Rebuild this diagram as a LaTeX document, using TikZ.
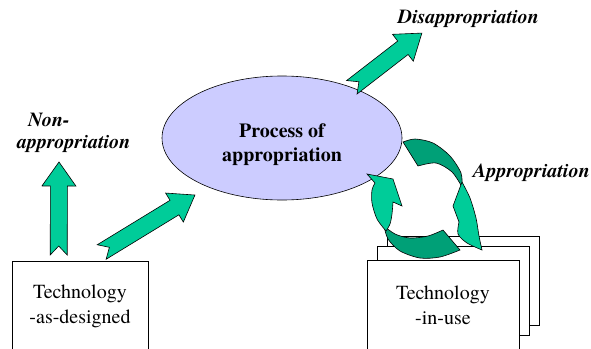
\documentclass[tikz,border=0pt]{standalone}
\usepackage{fontspec}
\setmainfont{texgyretermes}[Extension=.otf, UprightFont=*-regular, BoldFont=*-bold,
  ItalicFont=*-italic, BoldItalicFont=*-bolditalic]
\usepackage{tikz}
\usetikzlibrary{calc,shapes.geometric}

\definecolor{arrowgreen}{HTML}{00CC99}
\definecolor{cyclegreen}{HTML}{00A077}
\definecolor{proclilac}{HTML}{CCCCFF}

\newcommand\notcharrow[2]{%
  \filldraw[blockarrow] let \p1=(#1), \p2=(#2),
    \n1={atan2(\y2-\y1,\x2-\x1)}, \n2={veclen(\x2-\x1,\y2-\y1)} in
    [shift={(\p1)}, rotate=\n1]
    (0,-8.5) -- (\n2-24,-8.5) -- (\n2-24,-17) -- (\n2,0) -- (\n2-24,17)
    -- (\n2-24,8.5) -- (0,8.5) -- (9,0) -- cycle;}

\begin{document}
\begin{tikzpicture}[
  x=1pt, y=-1pt,
  techbox/.style={draw, line width=0.6pt, fill=white, align=center, anchor=north,
    inner ysep=24pt, text depth=40pt, font=\fontsize{20}{25}\selectfont},
  stackbox/.style={draw, line width=0.6pt, fill=white, minimum width=152pt, minimum height=89pt},
  procnode/.style={ellipse, draw, line width=0.6pt, fill=proclilac, minimum width=240pt,
    minimum height=124pt, inner sep=0pt, align=center, text height=51pt, text depth=4pt,
    font=\fontsize{20}{24}\selectfont\bfseries},
  lbl/.style={inner sep=0pt, font=\fontsize{20}{22}\selectfont\bfseries\itshape},
  blockarrow/.style={fill=arrowgreen, draw=black, line width=0.6pt},
  cyclefront/.style={fill=arrowgreen, draw=black, line width=0.6pt},
  cycleback/.style={fill=cyclegreen, draw=black, line width=0.6pt}
]
\useasboundingbox (0,0) rectangle (591,348);

\node[procnode] (proc) at (282,138) {Process of\\appropriation};
\node[techbox, minimum width=136pt] (tad) at (80,261) {Technology\\-as-designed};
\node[stackbox] (tiu3) at (463,280.5) {};
\node[stackbox] (tiu2) at ($(tiu3)+(-10,10)$) {};
\node[techbox, minimum width=152pt, inner ysep=26pt] (tiu) at (443,260) {Technology\\-in-use};

\node[lbl, anchor=north west, align=left] (nonlbl) at (17,113) {\hspace*{11pt}Non-\\appropriation};
\node[lbl, anchor=base] (dislbl) at (468.5,23) {Disappropriation};
\node[lbl, anchor=base west] (applbl) at (473,177) {Appropriation};

\coordinate (non0) at ($(tad.north west)+(47,-6)$);
\coordinate (non1) at (59,162);
\coordinate (pro0) at ($(tad.north west)+(90,-9)$);
\coordinate (pro1) at ($(proc.center)+(-87,57)$);
\coordinate (dis0) at (proc.36);
\coordinate (dis1) at (422,33);
\notcharrow{non0}{non1}
\notcharrow{pro0}{pro1}
\notcharrow{dis0}{dis1}

\filldraw[cycleback] plot[smooth] coordinates {(403,142) (415,139) (433,143) (450,156) (461,173) (462,187)}
  -- plot[smooth] coordinates {(462,187) (452,172) (436,163) (418,166)} -- cycle;
\filldraw[cyclefront] plot[smooth] coordinates {(462,182) (470,198) (476,218) (479,236) (482,250)}
  -- plot[smooth] coordinates {(482,250) (467,243) (458,234) (459,222)} -- (453,206) -- cycle;
\filldraw[cycleback] plot[smooth] coordinates {(443,230) (428,236) (410,238) (395,234) (384,226)}
  -- plot[smooth] coordinates {(384,226) (388,239) (400,251) (420,258) (440,257) (460,250)} -- cycle;
\filldraw[cyclefront] plot[smooth] coordinates {(386,231) (377,219) (372,203) (372,190) (375,183)}
  -- (367,174) -- (393,179) -- (402,206)
  -- plot[smooth] coordinates {(393,202) (392,214) (390,224) (386,231)} -- cycle;
\end{tikzpicture}
\end{document}
